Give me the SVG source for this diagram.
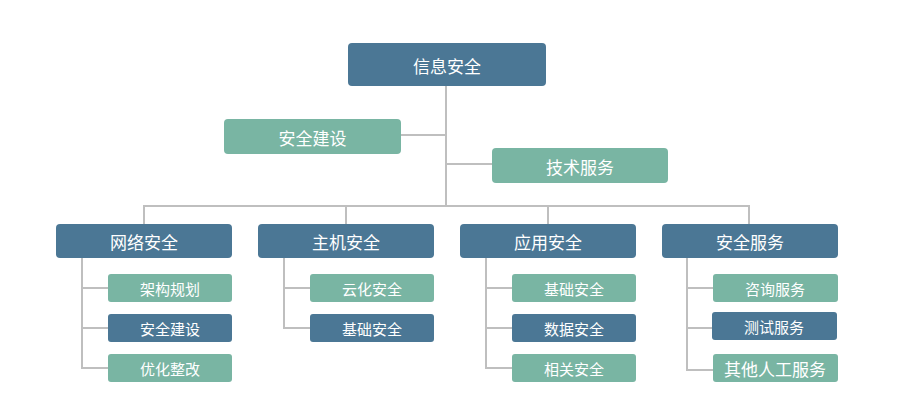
<svg xmlns="http://www.w3.org/2000/svg" width="897" height="412" viewBox="0 0 897 412">
<style>
.d{fill:#4b7795}
.t{fill:#79b5a3}
text{fill:#ffffff;font-family:"Noto Sans CJK SC","Microsoft YaHei",sans-serif;text-anchor:middle;dominant-baseline:central}
.l{font-size:17px}
.s{font-size:15px}
.c{fill:none;stroke:#bfbfbf;stroke-width:2}
</style>
<rect width="897" height="412" fill="#ffffff"/>
<g id="connectors" class="c">
<path d="M446 86V206"/>
<path d="M401 135H446"/>
<path d="M446 164H492"/>
<path d="M144 224V206H749V224"/>
<path d="M346 206V224"/>
<path d="M548 206V224"/>
<path d="M82 258V368H108M82 288H108M82 328H108"/>
<path d="M284 258V328H310M284 288H310"/>
<path d="M486 258V368H512M486 288H512M486 328H512"/>
<path d="M687 258V370H713M687 288H713M687 328H712"/>
</g>
<g id="root"><rect class="d" x="348" y="43" width="198" height="43" rx="4"/><text class="l" x="447" y="65">信息安全</text></g>
<g id="n_build"><rect class="t" x="224" y="119" width="177" height="35" rx="4"/><text class="l" x="312.5" y="137">安全建设</text></g>
<g id="n_tech"><rect class="t" x="492" y="148" width="176" height="35" rx="4"/><text class="l" x="580" y="166">技术服务</text></g>
<g id="n_net"><rect class="d" x="56" y="224" width="176" height="34" rx="4"/><text class="l" x="144" y="241">网络安全</text></g>
<g id="n_host"><rect class="d" x="258" y="224" width="176" height="34" rx="4"/><text class="l" x="346" y="241">主机安全</text></g>
<g id="n_app"><rect class="d" x="460" y="224" width="176" height="34" rx="4"/><text class="l" x="548" y="241">应用安全</text></g>
<g id="n_svc"><rect class="d" x="662" y="224" width="176" height="34" rx="4"/><text class="l" x="750" y="241">安全服务</text></g>
<g id="n_net1"><rect class="t" x="108" y="274" width="124" height="28" rx="3"/><text class="s" x="170" y="288">架构规划</text></g>
<g id="n_net2"><rect class="d" x="108" y="314" width="124" height="28" rx="3"/><text class="s" x="170" y="328">安全建设</text></g>
<g id="n_net3"><rect class="t" x="108" y="354" width="124" height="28" rx="3"/><text class="s" x="170" y="368">优化整改</text></g>
<g id="n_host1"><rect class="t" x="310" y="274" width="124" height="28" rx="3"/><text class="s" x="372" y="288">云化安全</text></g>
<g id="n_host2"><rect class="d" x="310" y="314" width="124" height="28" rx="3"/><text class="s" x="372" y="328">基础安全</text></g>
<g id="n_app1"><rect class="t" x="512" y="274" width="124" height="28" rx="3"/><text class="s" x="574" y="288">基础安全</text></g>
<g id="n_app2"><rect class="d" x="512" y="314" width="124" height="28" rx="3"/><text class="s" x="574" y="328">数据安全</text></g>
<g id="n_app3"><rect class="t" x="512" y="354" width="124" height="28" rx="3"/><text class="s" x="574" y="368">相关安全</text></g>
<g id="n_svc1"><rect class="t" x="713" y="274" width="125" height="28" rx="3"/><text class="s" x="775" y="288">咨询服务</text></g>
<g id="n_svc2"><rect class="d" x="712" y="312" width="125" height="28" rx="3"/><text class="s" x="774" y="326">测试服务</text></g>
<g id="n_svc3"><rect class="t" x="713" y="354" width="125" height="28" rx="3"/><text class="l" x="775" y="368">其他人工服务</text></g>
</svg>
